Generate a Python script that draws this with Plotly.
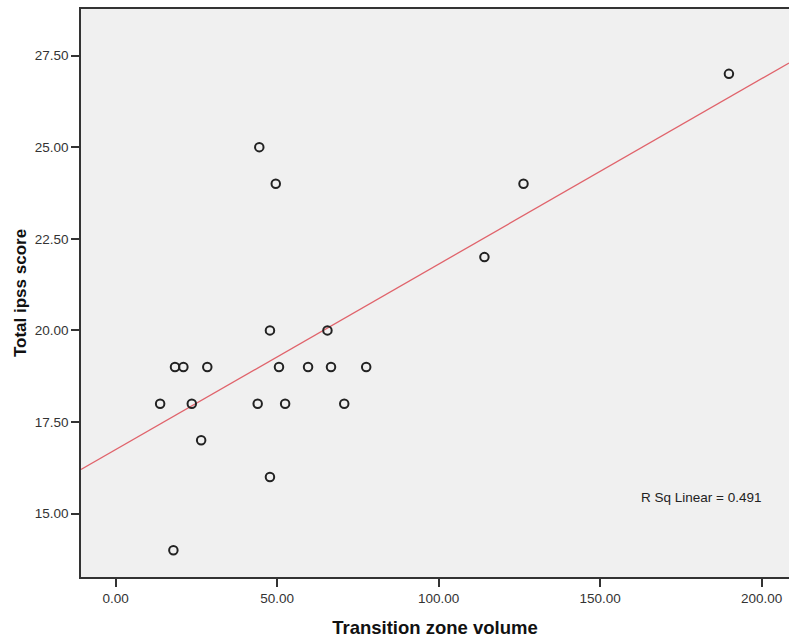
import numpy as np
import plotly.graph_objects as go

# Data
transition_zone_volume = [13.8, 18.4, 21.0, 28.4, 23.6, 26.5, 17.9, 44.0, 44.5, 47.8, 47.8,
                          49.6, 50.6, 52.5, 59.6, 66.7, 65.6, 70.8, 77.6, 114.2, 126.3, 189.9]
total_ipss_score = [18, 19, 19, 19, 18, 17, 14, 18, 25, 16, 20,
                    24, 19, 18, 19, 19, 20, 18, 19, 22, 24, 27]
x_ticks = [0, 50, 100, 150, 200]
y_ticks = [15.0, 17.5, 20.0, 22.5, 25.0, 27.5]
r_sq_label = "R Sq Linear = 0.491"

x_range = [-10.7, 208.5]
y_range = [13.27, 28.77]

slope, intercept = np.polyfit(transition_zone_volume, total_ipss_score, 1)
fit_x = np.array(x_range)
fit_y = intercept + slope * fit_x

fig = go.Figure()
fig.add_trace(go.Scatter(
    x=fit_x, y=fit_y, mode="lines",
    line=dict(color="#e0636b", width=1.3),
    hoverinfo="skip", showlegend=False,
))
fig.add_trace(go.Scatter(
    x=transition_zone_volume, y=total_ipss_score, mode="markers",
    marker=dict(symbol="circle-open", size=8.5, color="#222222",
                line=dict(width=2, color="#222222")),
    showlegend=False,
))

fig.add_annotation(
    text=r_sq_label, xref="paper", yref="paper", x=0.876, y=0.14,
    xanchor="center", yanchor="middle",
    showarrow=False, font=dict(family="Liberation Sans, Arial", size=13.5, color="#222"),
)

fig.update_layout(
    width=789, height=642,
    margin=dict(l=81, r=0, t=9, b=65),
    paper_bgcolor="white",
    plot_bgcolor="#f0f0f0",
    font=dict(family="Liberation Sans, Arial", size=13, color="#333"),
)
fig.update_xaxes(
    range=x_range, tickvals=x_ticks, tickformat=".2f", automargin=False,
    showgrid=False, zeroline=False,
    showline=True, mirror=True, linecolor="#333", linewidth=1.5,
    ticks="outside", ticklen=8, tickcolor="#333", tickwidth=1.5,
    tickfont=dict(size=13.5, color="#333"),
    title=dict(text="<b>Transition zone volume</b>", font=dict(size=18.5, color="#111"), standoff=16),
)
fig.update_yaxes(
    range=y_range, tickvals=y_ticks, tickformat=".2f", automargin=False,
    showgrid=False, zeroline=False,
    showline=True, linecolor="#333", linewidth=1.5,
    ticks="outside", ticklen=8, tickcolor="#333", tickwidth=1.5,
    tickfont=dict(size=13.5, color="#333"),
    title=dict(text="<b>Total ipss score</b>", font=dict(size=17, color="#111"), standoff=4),
)

fig.write_html(
    "out.html",
    config={"displayModeBar": False},
    post_script="document.body.style.margin='0';document.body.style.overflow='hidden';",
)
